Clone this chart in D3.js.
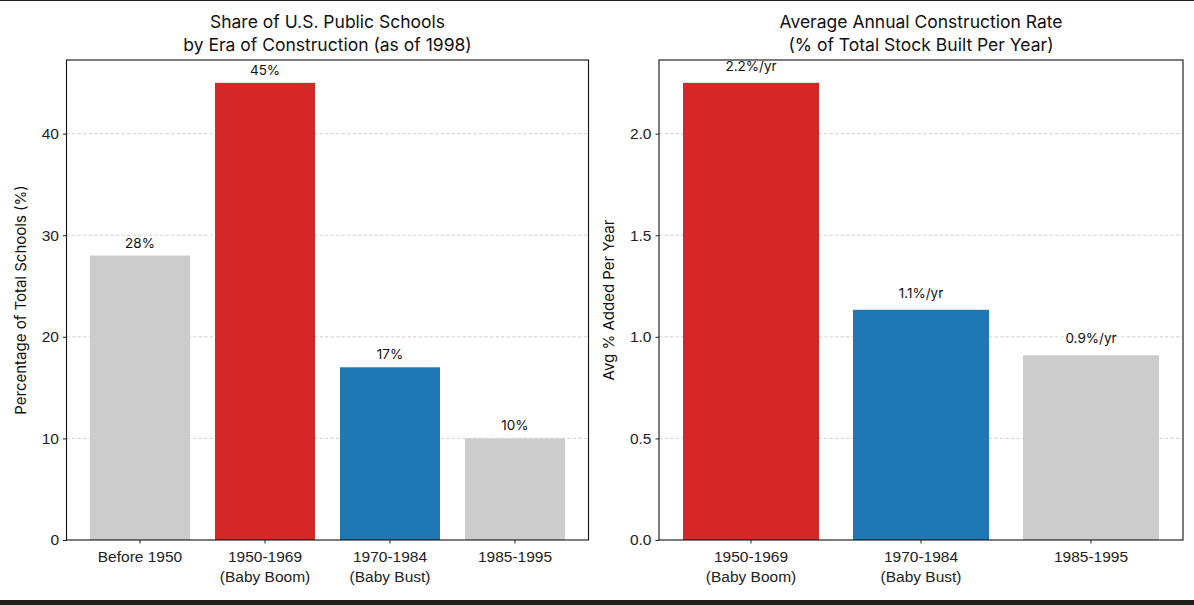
<!DOCTYPE html>
<html>
<head>
<meta charset="utf-8">
<script src="https://cdn.jsdelivr.net/npm/d3@7"></script>
<style>
  body { margin: 0; background: #fff; }
  svg { display: block; font-family: "Inter", "Lato", "DejaVu Sans", sans-serif; }
  .tick text { fill: #222; }
</style>
</head>
<body>
<div id="chart"></div>
<script>
// Panel 1: share of schools by era
var shareEras = ["Before 1950", "1950-1969\n(Baby Boom)", "1970-1984\n(Baby Bust)", "1985-1995"];
var shareValues = [28, 45, 17, 10];
var shareLabels = ["28%", "45%", "17%", "10%"];
var shareColors = ["#cccccc", "#d62728", "#1f77b4", "#cccccc"];
var shareTicks = [0, 10, 20, 30, 40];

// Panel 2: average annual construction rate
var rateEras = ["1950-1969\n(Baby Boom)", "1970-1984\n(Baby Bust)", "1985-1995"];
var rateValues = [2.25, 1.133, 0.909];
var rateLabels = ["2.2%/yr", "1.1%/yr", "0.9%/yr"];
var rateColors = ["#d62728", "#1f77b4", "#cccccc"];
var rateTicks = [0, 0.5, 1.0, 1.5, 2.0];

var svgWidth = 1194;
var svgHeight = 605;

var svg = d3.select("#chart")
  .append("svg")
  .attr("width", svgWidth)
  .attr("height", svgHeight);

// dark frame strips seen at the top and bottom of the picture
svg.append("rect").attr("x", 0).attr("y", 0).attr("width", svgWidth).attr("height", 1).attr("fill", "#222");
svg.append("rect").attr("x", 0).attr("y", 600).attr("width", svgWidth).attr("height", 5).attr("fill", "#221e1b");

function drawPanel(opts) {
  var x0 = opts.left, x1 = opts.right, y0 = 60, y1 = 540;
  var w = x1 - x0, h = y1 - y0;
  var g = svg.append("g").attr("transform", `translate(${x0}, ${y0})`);

  var n = opts.cats.length;
  var outer = (w / opts.step - (n - 0.2)) / 2;
  var x = d3.scaleBand()
    .domain(d3.range(n))
    .range([0, w])
    .paddingInner(0.2)
    .paddingOuter(outer);

  var y = d3.scaleLinear()
    .domain([0, opts.yMax])
    .range([h, 0]);

  // grid
  g.selectAll(".grid")
    .data(opts.ticks.slice(1))
    .enter()
    .append("line")
    .attr("x1", 0)
    .attr("x2", w)
    .attr("y1", d => y(d))
    .attr("y2", d => y(d))
    .attr("stroke", "#c8c8c8")
    .attr("stroke-width", 0.8)
    .attr("stroke-dasharray", "3.5,2");

  // bars
  g.selectAll(".bar")
    .data(opts.values)
    .enter()
    .append("rect")
    .attr("x", (d, i) => x(i))
    .attr("y", d => y(d))
    .attr("width", x.bandwidth())
    .attr("height", d => h - y(d))
    .attr("fill", (d, i) => opts.colors[i]);

  // value labels
  g.selectAll(".val")
    .data(opts.values)
    .enter()
    .append("text")
    .attr("x", (d, i) => x(i) + x.bandwidth() / 2)
    .attr("y", d => y(d) - opts.labelGap)
    .attr("text-anchor", "middle")
    .style("font-size", "13.5px")
    .attr("fill", "#111")
    .text((d, i) => opts.labels[i]);

  // axes
  var leftAxis = d3.axisLeft(y)
    .tickValues(opts.ticks)
    .tickFormat(opts.fmt)
    .tickSize(3.5)
    .tickPadding(4);
  var yAxis = g.append("g").call(leftAxis);
  yAxis.select(".domain").remove();
  yAxis.selectAll("text").style("font-size", "15.5px");
  yAxis.selectAll("line").attr("stroke", "#222");

  var bottomAxis = d3.axisBottom(x)
    .tickSize(3.5)
    .tickPadding(4)
    .tickFormat("");
  var xAxis = g.append("g")
    .attr("transform", `translate(0, ${h})`)
    .call(bottomAxis);
  xAxis.select(".domain").remove();
  xAxis.selectAll("line").attr("stroke", "#222");
  xAxis.selectAll(".tick").each(function(d) {
    var lines = opts.cats[d].split("\n");
    var t = d3.select(this).append("text")
      .attr("fill", "#222")
      .attr("text-anchor", "middle")
      .style("font-size", "15.5px");
    lines.forEach(function(s, k) {
      t.append("tspan").attr("x", 0).attr("y", 21.5 + k * 20.5).text(s);
    });
  });

  // frame
  g.append("rect")
    .attr("width", w)
    .attr("height", h)
    .attr("fill", "none")
    .attr("stroke", "#111")
    .attr("stroke-width", 1.1);

  // titles
  opts.title.forEach(function(s, k) {
    svg.append("text")
      .attr("x", x0 + w / 2)
      .attr("y", 28 + k * 23)
      .attr("text-anchor", "middle")
      .style("font-size", "17.5px")
      .attr("fill", "#111")
      .text(s);
  });

  // y label
  svg.append("text")
    .attr("transform", `translate(${opts.yLabelX}, ${y0 + h / 2}) rotate(-90)`)
    .attr("text-anchor", "middle")
    .style("font-size", "15px")
    .attr("fill", "#111")
    .text(opts.yLabel);
}

drawPanel({
  left: 66.5, right: 588.5, step: 125,
  cats: shareEras, values: shareValues, labels: shareLabels, colors: shareColors,
  ticks: shareTicks, yMax: 47.25, fmt: d3.format("d"),
  labelGap: 8,
  title: ["Share of U.S. Public Schools", "by Era of Construction (as of 1998)"],
  yLabel: "Percentage of Total Schools (%)", yLabelX: 26
});

drawPanel({
  left: 659, right: 1183, step: 170,
  cats: rateEras, values: rateValues, labels: rateLabels, colors: rateColors,
  ticks: rateTicks, yMax: 2.3625, fmt: d3.format(".1f"),
  labelGap: 12,
  title: ["Average Annual Construction Rate", "(% of Total Stock Built Per Year)"],
  yLabel: "Avg % Added Per Year", yLabelX: 614
});
</script>
</body>
</html>
